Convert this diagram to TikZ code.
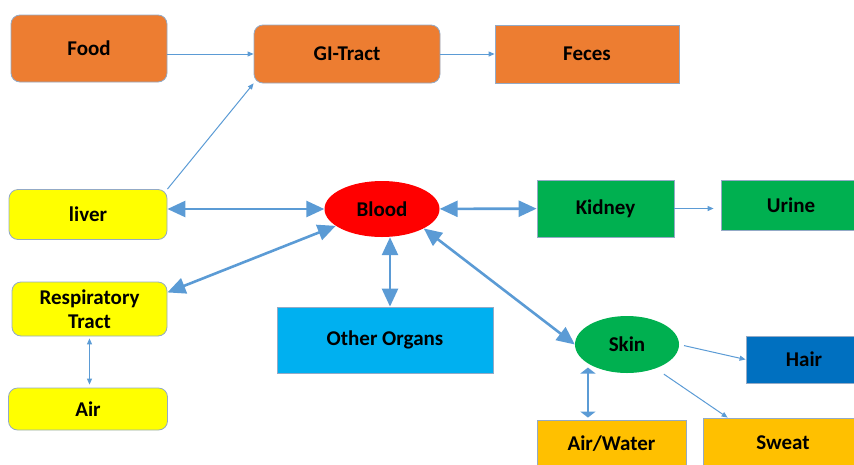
\documentclass[tikz,border=0pt]{standalone}
\usepackage{fontspec}
\setmainfont{Carlito}
\usetikzlibrary{arrows.meta,shapes.geometric}
\usepackage{xcolor}
\definecolor{orangebox}{HTML}{ED7D31}
\definecolor{yellowbox}{HTML}{FFFF00}
\definecolor{redbox}{HTML}{FF0000}
\definecolor{greenbox}{HTML}{00B050}
\definecolor{cyanbox}{HTML}{00B0F0}
\definecolor{bluebox}{HTML}{0070C0}
\definecolor{goldbox}{HTML}{FFC000}
\definecolor{arrowblue}{HTML}{5B9BD5}
\definecolor{edgeline}{HTML}{93AAC6}

\begin{document}
\begin{tikzpicture}[x=1pt, y=-1pt,
  every node/.style={font=\bfseries\fontsize{21}{24}\selectfont, text=black},
  rbox/.style={draw=edgeline, line width=0.8pt, rounded corners=9pt, inner sep=0pt, align=center},
  sbox/.style={draw=edgeline, line width=0.8pt, inner sep=0pt, align=center},
  oval/.style={ellipse, inner sep=0pt},
  link/.style={draw=arrowblue, line width=1pt, -{Triangle[length=6pt,width=5pt]}},
  twolink/.style={draw=arrowblue, line width=1pt, {Triangle[length=6pt,width=5pt]}-{Triangle[length=6pt,width=5pt]}},
  midlink/.style={draw=arrowblue, line width=2pt, {Triangle[length=6pt,width=15pt]}-{Triangle[length=6pt,width=15pt]}},
  flow/.style={draw=arrowblue, line width=2.6pt, {Triangle[length=18pt,width=16pt]}-{Triangle[length=18pt,width=16pt]}}]
  \path[use as bounding box] (0,0) rectangle (854,464);
  \clip (0,0) rectangle (854,464);

  % Digestive path
  \node[rbox, fill=orangebox, minimum width=156pt, minimum height=67pt] (food) at (89,48.5) {Food};
  \node[rbox, fill=orangebox, minimum width=186pt, minimum height=58pt] (gi) at (347,54) {GI-Tract};
  \node[sbox, fill=orangebox, minimum width=184pt, minimum height=58pt] (feces) at (587,54) {Feces};

  % Blood and organs
  \node[rbox, fill=yellowbox, minimum width=158pt, minimum height=50pt] (liver) at (88,214.5) {liver};
  \node[oval, fill=redbox, minimum width=115pt, minimum height=56pt] (blood) at (382,209) {Blood};
  \node[sbox, fill=greenbox, minimum width=137pt, minimum height=57pt] (kidney) at (605.5,208.5) {Kidney};
  \node[sbox, fill=greenbox, minimum width=140pt, minimum height=50pt] (urine) at (791,205) {Urine};
  \node[rbox, fill=yellowbox, minimum width=155pt, minimum height=54pt] (resp) at (89.5,309) {Respiratory\\Tract};
  \node[sbox, fill=cyanbox, minimum width=216pt, minimum height=66pt] (other) at (385,340) {Other Organs};
  \node[rbox, fill=yellowbox, minimum width=159pt, minimum height=42pt] (air) at (88,409) {Air};

  % Skin branch
  \node[oval, fill=greenbox, minimum width=104pt, minimum height=57pt] (skin) at (627,344.5) {Skin};
  \node[sbox, fill=bluebox, minimum width=116pt, minimum height=47pt] (hair) at (804,359.5) {Hair};
  \node[sbox, fill=goldbox, minimum width=149pt, minimum height=48pt] (aw) at (611.5,444) {Air/Water};
  \node[sbox, fill=goldbox, minimum width=160pt, minimum height=50pt] (sweat) at (783,443) {Sweat};

  % Connectors
  \draw[link] (food.east |- gi.west) -- (gi.west);
  \draw[link] (gi) -- (feces);
  \draw[link] (liver.north east) -- (gi.south west);
  \draw[flow] (blood.west -| liver.east) -- (blood.west);
  \draw[flow] (blood) -- (kidney);
  \draw[link, shorten >=7pt] (kidney.east) -- (kidney.east -| urine.west);
  \draw[flow] (blood.200) -- (resp.12);
  \draw[flow] ([xshift=8pt]blood.south) -- ([xshift=8pt]blood.south |- other.north);
  \draw[flow] (blood.-25) -- (skin.west);
  \draw[twolink, shorten <=2pt, shorten >=3pt] (resp.south) -- (resp.south |- air.north);
  \draw[midlink, shorten <=4pt, shorten >=2pt] (skin.206) -- (skin.206 |- aw.north);
  \draw[link, shorten <=5pt] (skin.east) -- (hair.west);
  \draw[link, shorten <=10pt] (skin.-40) -- ([xshift=25pt]sweat.north west);
\end{tikzpicture}
\end{document}
